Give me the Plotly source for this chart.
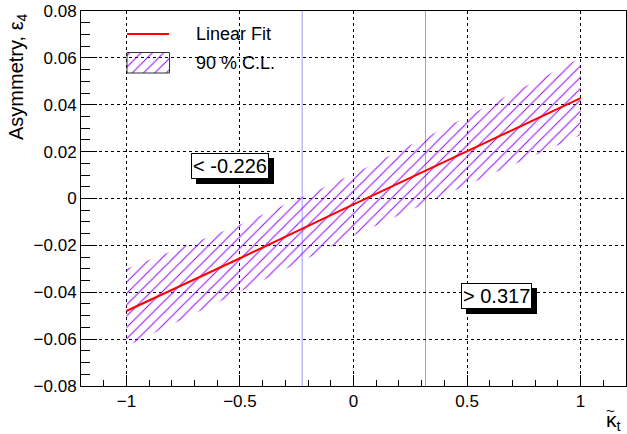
import plotly.graph_objects as go

# ---- data ----
kappa = [-1.0, -0.5, 0.0, 0.5, 1.0]
fit = [-0.0480, -0.0255, -0.0025, 0.0203, 0.0428]
cl_upper = [-0.0300, -0.0112, 0.0105, 0.0350, 0.0600]
cl_lower = [-0.0630, -0.0398, -0.0158, 0.0058, 0.0270]
cuts = [-0.226, 0.317]
cut_labels = ["< -0.226", "> 0.317"]
label_pos_x = [-0.544, 0.628]
label_pos_y = [0.0137, -0.0414]

x_tickvals = [-1, -0.5, 0, 0.5, 1]
x_ticktext = ["\u22121", "\u22120.5", "0", "0.5", "1"]
y_tickvals = [-0.08, -0.06, -0.04, -0.02, 0, 0.02, 0.04, 0.06, 0.08]
y_ticktext = ["\u22120.08", "\u22120.06", "\u22120.04", "\u22120.02", "0",
              "0.02", "0.04", "0.06", "0.08"]

FONT = "Liberation Sans, Arial, Helvetica, sans-serif"
HATCH = "#9400ff"
W, H = 627, 434
L, R, T, B = 81, 1, 11, 48

hatch = dict(shape="/", fgcolor=HATCH, bgcolor="rgba(0,0,0,0)",
             fgopacity=1, size=8, solidity=0.12)

fig = go.Figure()

# confidence band (hatched)
fig.add_trace(go.Scatter(
    x=kappa + kappa[::-1], y=cl_upper + cl_lower[::-1],
    mode="lines", line=dict(width=0, color="rgba(0,0,0,0)"),
    fill="toself", fillcolor="rgba(0,0,0,0)", fillpattern=hatch,
    showlegend=False, hoverinfo="skip"))

# linear fit
fig.add_trace(go.Scatter(
    x=kappa, y=fit, mode="lines", line=dict(color="#ff0000", width=2),
    showlegend=False))

# legend drawn on a pixel-coordinate overlay axis
px_x = [81, 626]
px_y = [386, 11]
fig.add_trace(go.Scatter(
    x=[127, 169.5, 169.5, 127, 127], y=[52.5, 52.5, 73, 73, 52.5],
    xaxis="x2", yaxis="y2", mode="lines",
    line=dict(color="#333333", width=1),
    fill="toself", fillcolor="rgba(0,0,0,0)", fillpattern=hatch,
    showlegend=False, hoverinfo="skip"))
fig.add_trace(go.Scatter(
    x=[127, 169], y=[34, 34], xaxis="x2", yaxis="y2", mode="lines",
    line=dict(color="#ff0000", width=2), showlegend=False, hoverinfo="skip"))

shapes = []
for c in cuts:
    shapes.append(dict(type="line", xref="x", yref="y domain", x0=c, x1=c,
                       y0=0, y1=1, line=dict(color="#9999ff", width=1),
                       layer="below"))

annotations = []
# legend texts
for txt, yy in [("Linear Fit", 34), ("90 % C.L.", 63)]:
    annotations.append(dict(xref="x2", yref="y2", x=193.5, y=yy, text=txt,
                            showarrow=False, xanchor="left", yanchor="middle",
                            font=dict(family=FONT, size=18, color="black")))

# cut boxes with shadow
for txt, xx, yy in zip(cut_labels, label_pos_x, label_pos_y):
    annotations.append(dict(x=xx, y=yy, text=txt, showarrow=False,
                            xshift=5, yshift=-5,
                            font=dict(family=FONT, size=20, color="black"),
                            bgcolor="black", bordercolor="black",
                            borderwidth=1, borderpad=1))
    annotations.append(dict(x=xx, y=yy, text=txt, showarrow=False,
                            font=dict(family=FONT, size=20, color="black"),
                            bgcolor="white", bordercolor="black",
                            borderwidth=1, borderpad=1))

pw = W - L - R
ph = H - T - B
# y axis title
annotations.append(dict(xref="paper", yref="paper",
                        x=(17 - L) / pw, y=(386 - 77) / ph,
                        text="Asymmetry, \u03b5<sub>4</sub>", textangle=-90,
                        showarrow=False, xanchor="center", yanchor="middle",
                        font=dict(family=FONT, size=20, color="black")))
# x axis title (kappa with tilde above, subscript t)
annotations.append(dict(xref="paper", yref="paper",
                        x=(613 - L) / pw, y=(386 - 421) / ph,
                        text="\u03ba<sub>t</sub>",
                        showarrow=False, xanchor="center", yanchor="middle",
                        font=dict(family=FONT, size=21, color="black")))
annotations.append(dict(xref="paper", yref="paper",
                        x=(610 - L) / pw, y=(386 - 410) / ph,
                        text="~",
                        showarrow=False, xanchor="center", yanchor="middle",
                        font=dict(family=FONT, size=15, color="black")))

fig.update_layout(
    width=W, height=H,
    margin=dict(l=L, r=R, t=T, b=B, pad=0),
    paper_bgcolor="white", plot_bgcolor="white",
    showlegend=False,
    font=dict(family=FONT, size=17, color="black"),
    shapes=shapes, annotations=annotations,
    xaxis=dict(range=[-1.2, 1.2], tickmode="array", tickvals=x_tickvals,
               ticktext=x_ticktext, ticks="inside", ticklen=11,
               tickcolor="black", showline=True, linecolor="black",
               linewidth=1, mirror=True, showgrid=True, gridcolor="black",
               griddash="dot", gridwidth=1, zeroline=False,
               tickfont=dict(family=FONT, size=17),
               minor=dict(ticks="inside", ticklen=6, tickcolor="black",
                          dtick=0.1, tick0=0, showgrid=False)),
    yaxis=dict(range=[-0.08, 0.08], tickmode="array", tickvals=y_tickvals,
               ticktext=y_ticktext, ticks="inside", ticklen=16,
               tickcolor="black", showline=True, linecolor="black",
               linewidth=1, mirror=True, showgrid=True, gridcolor="black",
               griddash="dot", gridwidth=1, zeroline=False,
               tickfont=dict(family=FONT, size=17),
               minor=dict(ticks="inside", ticklen=9, tickcolor="black",
                          dtick=0.005, tick0=0, showgrid=False)),
    xaxis2=dict(range=px_x, overlaying="x", anchor="y2", visible=False,
                fixedrange=True),
    yaxis2=dict(range=px_y, overlaying="y", anchor="x2", visible=False,
                fixedrange=True),
)

fig.write_html("out.html",
               config={"displayModeBar": False},
               post_script="document.body.style.margin='0';"
                           "document.body.style.overflow='hidden';")
